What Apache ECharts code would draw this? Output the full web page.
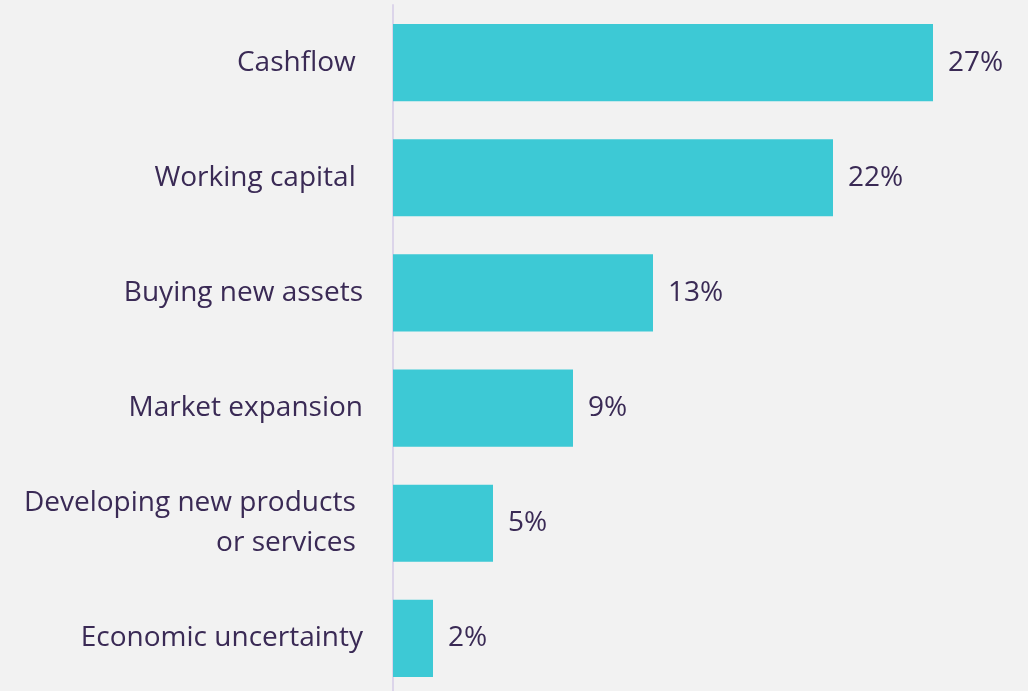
<!DOCTYPE html>
<html>
<head>
<meta charset="utf-8">
<script src="https://cdn.jsdelivr.net/npm/echarts@6/dist/echarts.min.js"></script>
<style>
  html, body { margin: 0; padding: 0; background: #f2f2f2; }
  #chart { width: 1028px; height: 691px; }
</style>
</head>
<body>
<div id="chart"></div>
<script>
const categories = [
  "Cashflow ",
  "Working capital ",
  "Buying new assets",
  "Market expansion",
  "Developing new products \nor services ",
  "Economic uncertainty"
];
const shares = [27, 22, 13, 9, 5, 2];

const textColor = "#3a2a55";
const chart = echarts.init(document.getElementById("chart"));

chart.setOption({
  backgroundColor: "#f2f2f2",
  animation: false,
  grid: { left: 393, top: 5, width: 540, height: 691, outerBoundsMode: "none" },
  xAxis: {
    type: "value",
    min: 0,
    max: 27,
    show: false
  },
  yAxis: {
    type: "category",
    inverse: true,
    data: categories,
    axisLine: { show: true, lineStyle: { color: "#dcd5ea", width: 2 } },
    axisTick: { show: false },
    axisLabel: {
      margin: 30,
      color: textColor,
      fontFamily: "Open Sans",
      fontSize: 28,
      lineHeight: 40,
      align: "right"
    }
  },
  series: [
    {
      type: "bar",
      data: shares,
      barCategoryGap: "33%",
      itemStyle: { color: "#3dc9d5" },
      label: {
        show: true,
        position: "right",
        distance: 15,
        formatter: "{c}%",
        color: textColor,
        fontFamily: "Open Sans",
        fontSize: 28
      }
    }
  ]
});
</script>
</body>
</html>
